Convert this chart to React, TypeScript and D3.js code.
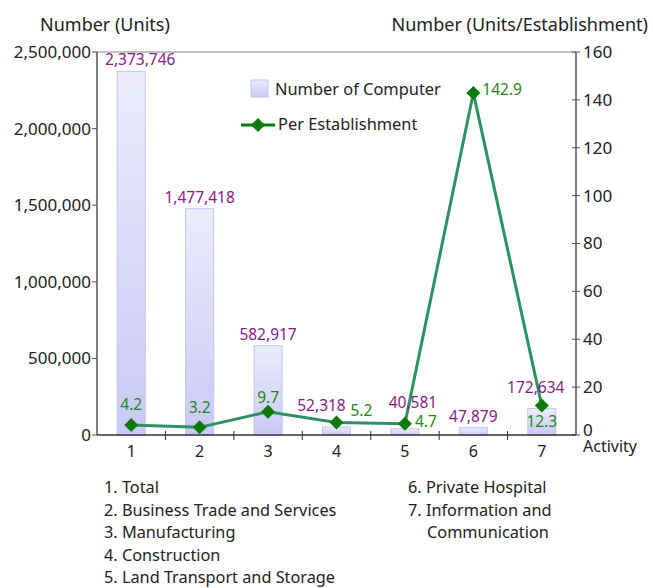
import React from 'react';
import * as d3 from 'd3';

// Activity codes on the x axis
const categories = ['1', '2', '3', '4', '5', '6', '7'];
// Number of computers (units) – bars, left axis
const computers = [2373746, 1477418, 582917, 52318, 40581, 47879, 172634];
// Computers per establishment – line, right axis
const perEstablishment = [4.2, 3.2, 9.7, 5.2, 4.7, 142.9, 12.3];
// Axis ticks
const leftTicks = [0, 500000, 1000000, 1500000, 2000000, 2500000];
const rightTicks = [0, 20, 40, 60, 80, 100, 120, 140, 160];
// Activity names listed under the chart
const activityNames = [
  '1. Total',
  '2. Business Trade and Services',
  '3. Manufacturing',
  '4. Construction',
  '5. Land Transport and Storage',
  '6. Private Hospital',
  '7. Information and',
  'Communication',
];

const FONT = '"Noto Sans", sans-serif';
const BAR_LABEL_COLOR = '#8b1a8b';
const LINE_LABEL_COLOR = '#1a8a1a';
const LINE_COLOR = '#2e9160';
const MARKER_COLOR = '#0a7a0a';
const AXIS_COLOR = '#555';

export default function App() {
  const width = 653;
  const height = 588;
  const margin = { top: 52, right: 77, bottom: 153, left: 97 };
  const plotW = width - margin.left - margin.right;
  const plotH = height - margin.top - margin.bottom;

  const x = d3.scaleBand().domain(categories).range([0, plotW]).paddingInner(0).paddingOuter(0);
  const yLeft = d3.scaleLinear().domain([0, 2500000]).range([plotH, 0]);
  const yRight = d3.scaleLinear().domain([0, 160]).range([plotH, 0]);
  const barW = x.bandwidth() * 0.41;
  const fmt = d3.format(',');

  const cx = (c: string) => (x(c) ?? 0) + x.bandwidth() / 2;

  const linePath = d3
    .line<number>()
    .x((_, i) => cx(categories[i]))
    .y((d) => yRight(d))(perEstablishment);

  // small nudges so the value labels don't collide (like the original)
  const barLabelNudge: [number, number][] = [
    [9, -6], [0, -6], [0, -6], [-15, -16], [8, -21], [0, -6], [-6, -16],
  ];
  const lineLabelPos: [number, number, string][] = [
    [0, -20, 'middle'],
    [0, -20, 'middle'],
    [0, -14, 'middle'],
    [14, -12, 'start'],
    [10, -2, 'start'],
    [9, -3, 'start'],
    [0, 16, 'middle'],
  ];

  const diamond = (px: number, py: number, r: number) =>
    `M${px},${py - r}L${px + r},${py}L${px},${py + r}L${px - r},${py}Z`;

  return (
    <svg width={width} height={height} style={{ display: 'block', position: 'absolute', left: 0, top: 0 }}>
      <defs>
        <linearGradient id="barGrad" x1="0" y1="0" x2="0" y2="1">
          <stop offset="0%" stopColor="#ececfd" />
          <stop offset="100%" stopColor="#c9c9f7" />
        </linearGradient>
      </defs>
      <rect width={width} height={height} fill="#fff" />

      {/* axis titles */}
      <text x={40} y={31} fontFamily={FONT} fontSize={18} fill="#222">
        Number (Units)
      </text>
      <text x={648} y={31} fontFamily={FONT} fontSize={18} fill="#222" textAnchor="end">
        Number (Units/Establishment)
      </text>

      <g transform={`translate(${margin.left},${margin.top})`}>
        {/* top border */}
        <line x1={0} x2={plotW} y1={0} y2={0} stroke="#888" strokeWidth={1} />

        {/* bars */}
        {computers.map((v, i) => (
          <rect
            key={'b' + i}
            x={cx(categories[i]) - barW / 2}
            y={yLeft(v)}
            width={barW}
            height={plotH - yLeft(v)}
            fill="url(#barGrad)"
            stroke="#c4c4f2"
            strokeWidth={1}
          />
        ))}

        {/* left axis */}
        <line x1={0} x2={0} y1={0} y2={plotH} stroke={AXIS_COLOR} strokeWidth={1.5} />
        {leftTicks.map((t) => (
          <g key={'lt' + t} transform={`translate(0,${yLeft(t)})`}>
            <line x1={-5} x2={0} stroke={AXIS_COLOR} />
            <text x={-6} dy="0.35em" textAnchor="end" fontFamily={FONT} fontSize={17} fill="#222">
              {fmt(t)}
            </text>
          </g>
        ))}

        {/* right axis */}
        <line x1={plotW} x2={plotW} y1={0} y2={plotH} stroke={AXIS_COLOR} strokeWidth={1.5} />
        {rightTicks.map((t) => (
          <g key={'rt' + t} transform={`translate(${plotW},${yRight(t)})`}>
            <line x1={-4} x2={4} stroke={AXIS_COLOR} />
            <text x={7} dy={t === 0 ? '0.05em' : '0.35em'} fontFamily={FONT} fontSize={17} fill="#222">
              {t}
            </text>
          </g>
        ))}

        {/* x axis */}
        <line x1={0} x2={plotW} y1={plotH} y2={plotH} stroke="#333" strokeWidth={1.5} />
        {categories.map((c, i) => (
          <g key={'xt' + c}>
            {i > 0 && <line x1={x(c)} x2={x(c)} y1={plotH - 4} y2={plotH + 5} stroke="#333" />}
            <text x={cx(c)} y={plotH + 22} textAnchor="middle" fontFamily={FONT} fontSize={16} fill="#222">
              {c}
            </text>
          </g>
        ))}
        <text x={plotW + 7} y={plotH + 17} fontFamily={FONT} fontSize={16} fill="#222">
          Activity
        </text>

        {/* line series */}
        <path d={linePath ?? ''} fill="none" stroke={LINE_COLOR} strokeWidth={3} />
        {perEstablishment.map((v, i) => (
          <path key={'m' + i} d={diamond(cx(categories[i]), yRight(v), 7)} fill={MARKER_COLOR} />
        ))}

        {/* bar value labels */}
        {computers.map((v, i) => (
          <text
            key={'bl' + i}
            x={cx(categories[i]) + barLabelNudge[i][0]}
            y={yLeft(v) + barLabelNudge[i][1]}
            textAnchor="middle"
            fontFamily={FONT}
            fontSize={15.5}
            fill={BAR_LABEL_COLOR}
          >
            {fmt(v)}
          </text>
        ))}

        {/* line value labels */}
        {perEstablishment.map((v, i) => (
          <text
            key={'ll' + i}
            x={cx(categories[i]) + lineLabelPos[i][0]}
            y={yRight(v) + lineLabelPos[i][1]}
            dy="0.35em"
            textAnchor={lineLabelPos[i][2]}
            fontFamily={FONT}
            fontSize={15.5}
            fill={LINE_LABEL_COLOR}
          >
            {v.toFixed(1)}
          </text>
        ))}
      </g>

      {/* legend */}
      <g fontFamily={FONT} fontSize={16.4} fill="#222">
        <rect x={251} y={80} width={17} height={17} fill="url(#barGrad)" stroke="#c4c4f2" />
        <text x={275} y={89} dy="0.35em">Number of Computer</text>
        <line x1={241} x2={275} y1={125} y2={125} stroke={MARKER_COLOR} strokeWidth={3} />
        <path d={diamond(258, 125, 7)} fill={MARKER_COLOR} />
        <text x={278} y={124} dy="0.35em">Per Establishment</text>
      </g>

      {/* activity list */}
      <g fontFamily={FONT} fontSize={16.3} fill="#222">
        {activityNames.slice(0, 5).map((n, i) => (
          <text key={'n' + i} x={104} y={493 + i * 22.6}>
            {n}
          </text>
        ))}
        {activityNames.slice(5).map((n, i) => (
          <text key={'m' + i} x={i === 2 ? 427 : 408} y={493 + i * 22.6}>
            {n}
          </text>
        ))}
      </g>
    </svg>
  );
}
